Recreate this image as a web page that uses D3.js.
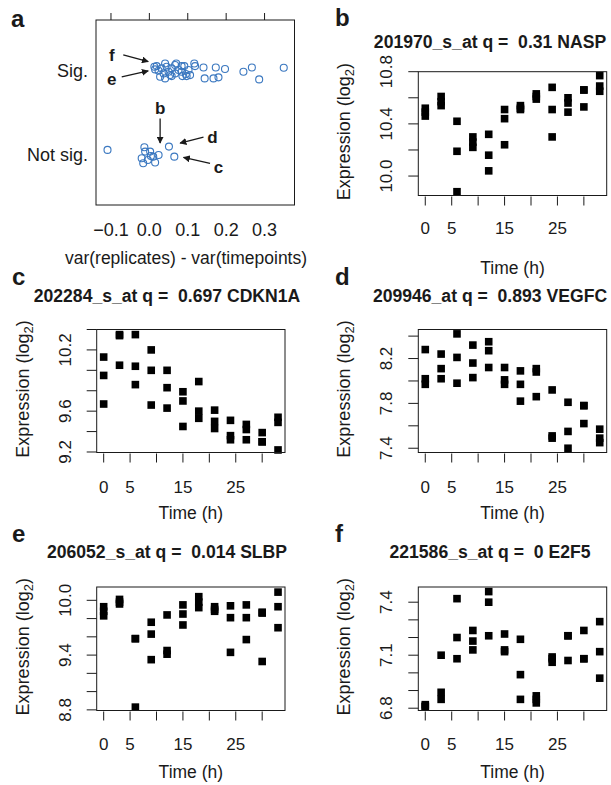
<!DOCTYPE html>
<html>
<head>
<meta charset="utf-8">
<script src="https://cdn.jsdelivr.net/npm/d3@7"></script>
<style>
  body { margin: 0; background: #fff; }
  svg { display: block; font-family: "Liberation Sans", Arial, Helvetica, sans-serif; }
  text { white-space: pre; }
</style>
</head>
<body>
<svg id="fig" width="611" height="785"></svg>
<script>
// ---- panel a: difference in variance, jittered by group ----
const groups = ['Not sig.', 'Sig.'];
const diffTicks = [-0.1, 0.0, 0.1, 0.2, 0.3];
const sigDiff = [0.015, 0.019, 0.024, 0.032, 0.041, 0.045, 0.037, 0.050, 0.058, 0.054, 0.067, 0.067,
  0.076, 0.084, 0.091, 0.086, 0.095, 0.102, 0.106, 0.117, 0.119, 0.141, 0.144, 0.167, 0.173, 0.180,
  0.197, 0.245, 0.267, 0.286, 0.350, 0.028, 0.041, 0.058, 0.084, 0.097, 0.070, 0.013];
const sigJitter = [0.008, 0.047, -0.008, 0.020, 0.078, 0.039, -0.039, -0.020, 0.020, -0.059, 0.059, -0.039,
  0.000, -0.020, 0.047, -0.071, -0.047, 0.000, -0.059, 0.078, 0.047, 0.031, -0.098, -0.098, 0.031, -0.086,
  0.012, -0.020, 0.031, -0.110, 0.027, -0.078, -0.098, -0.071, 0.047, -0.071, 0.078, 0.039];
const notSigDiff = [-0.109, -0.013, -0.011, 0.002, -0.020, -0.004, 0.010, 0.024, 0.015, -0.016, 0.051, 0.065, 0.004];
const notSigJitter = [0.059, 0.090, 0.039, 0.039, -0.039, -0.059, -0.020, 0.000, -0.090, -0.098, 0.098, -0.020, -0.012];
// arrows: tip, tail and label in data units
const notes = [
  { label: 'f', tip: [-0.003, 2.10], tail: [-0.068, 2.18], at: [-0.098, 2.18] },
  { label: 'e', tip: [-0.003, 1.99], tail: [-0.072, 1.92], at: [-0.098, 1.90] },
  { label: 'b', tip: [0.028, 1.14], tail: [0.028, 1.43], at: [0.028, 1.55] },
  { label: 'd', tip: [0.080, 1.14], tail: [0.141, 1.21], at: [0.164, 1.21] },
  { label: 'c', tip: [0.089, 0.97], tail: [0.158, 0.90], at: [0.180, 0.86] }
];

// ---- panels b-f: expression over time, three replicates per time point ----
const times = [0, 3, 6, 9, 12, 15, 18, 21, 24, 27, 30, 33];
const timeTicks = [0, 5, 10, 15, 20, 25, 30];
const timeLabels = [0, 5, 15, 25];

const naspValues = [[10.52, 10.49, 10.46], [10.61, 10.57, 10.54], [10.42, 10.19, 9.88], [10.30, 10.26, 10.22],
  [10.32, 10.16, 10.04], [10.51, 10.44, 10.24], [10.54, 10.52, 10.51], [10.63, 10.61, 10.59],
  [10.68, 10.51, 10.30], [10.60, 10.56, 10.49], [10.66, 10.66, 10.53], [10.77, 10.69, 10.65]];
const cdkn1aValues = [[10.13, 9.95, 9.67], [10.35, 10.34, 10.05], [10.35, 10.04, 9.86], [10.20, 10.00, 9.66],
  [10.00, 9.83, 9.63], [9.79, 9.70, 9.45], [9.89, 9.60, 9.53], [9.61, 9.50, 9.43],
  [9.51, 9.36, 9.32], [9.47, 9.42, 9.32], [9.39, 9.30, 9.30], [9.54, 9.49, 9.22]];
const vegfcValues = [[8.28, 8.02, 7.97], [8.24, 8.11, 8.02], [8.42, 8.21, 7.98], [8.32, 8.16, 8.03],
  [8.35, 8.27, 8.12], [8.12, 8.01, 7.97], [8.09, 7.97, 7.82], [8.11, 8.08, 7.86],
  [7.92, 7.51, 7.49], [7.81, 7.55, 7.40], [7.78, 7.78, 7.62], [7.57, 7.49, 7.45]];
const slbpValues = [[9.93, 9.88, 9.83], [10.01, 9.98, 9.96], [9.58, 9.58, 8.83], [9.76, 9.63, 9.35],
  [9.84, 9.45, 9.41], [9.95, 9.85, 9.73], [10.04, 9.98, 9.92], [9.93, 9.90, 9.88],
  [9.94, 9.81, 9.43], [9.95, 9.81, 9.57], [9.87, 9.86, 9.33], [10.09, 9.93, 9.70]];
const e2f5Values = [[6.81, 6.81, 6.82], [7.10, 6.89, 6.85], [7.42, 7.20, 7.08], [7.24, 7.18, 7.13],
  [7.46, 7.40, 7.21], [7.22, 7.13, 7.12], [7.19, 6.99, 6.85], [6.87, 6.85, 6.83],
  [7.09, 7.08, 7.06], [7.21, 7.21, 7.07], [7.24, 7.08, 7.08], [7.29, 7.12, 6.97]];

const panels = [
  { letter: 'b', title: '201970_s_at q =  0.31 NASP', values: naspValues, col: 1, row: 0,
    domain: [9.851, 10.80], ticks: [10.0, 10.2, 10.4, 10.6, 10.8], labels: [10.0, 10.4, 10.8] },
  { letter: 'c', title: '202284_s_at q =  0.697 CDKN1A', values: cdkn1aValues, col: 0, row: 1,
    domain: [9.195, 10.40], ticks: [9.2, 9.4, 9.6, 9.8, 10.0, 10.2, 10.4], labels: [9.2, 9.6, 10.2] },
  { letter: 'd', title: '209946_at q =  0.893 VEGFC', values: vegfcValues, col: 1, row: 1,
    domain: [7.362, 8.459], ticks: [7.4, 7.6, 7.8, 8.0, 8.2, 8.4], labels: [7.4, 7.8, 8.2] },
  { letter: 'e', title: '206052_s_at q =  0.014 SLBP', values: slbpValues, col: 0, row: 2,
    domain: [8.793, 10.146], ticks: [8.8, 9.0, 9.2, 9.4, 9.6, 9.8, 10.0], labels: [8.8, 9.4, 10.0] },
  { letter: 'f', title: '221586_s_at q =  0 E2F5', values: e2f5Values, col: 1, row: 2,
    domain: [6.787, 7.486], ticks: [6.8, 6.9, 7.0, 7.1, 7.2, 7.3, 7.4], labels: [6.8, 7.1, 7.4] }
];

// ---- layout ----
const colX = [[96.7, 285], [418.3, 606.7]];
const titleX = [167, 490];
const rows = [
  { top: 71.7, bottom: 195.5, tickBase: 234, labelBase: 274, title: 48, letter: 26 },
  { top: 329.5, bottom: 452.5, tickBase: 493, labelBase: 519, title: 302, letter: 285 },
  { top: 587, bottom: 710.5, tickBase: 750, labelBase: 778, title: 558, letter: 542 }
];
const ink = '#1a1a1a';
const blue = '#3b78c0';

const svg = d3.select('#fig');
svg.append('defs').append('marker')
  .attr('id', 'head').attr('viewBox', '0 0 10 10')
  .attr('refX', 9).attr('refY', 5)
  .attr('markerWidth', 7).attr('markerHeight', 7)
  .attr('markerUnits', 'userSpaceOnUse')
  .attr('orient', 'auto')
  .append('path').attr('d', 'M0,0L10,5L0,10Z').attr('fill', ink);

function letter(t, x, y) {
  svg.append('text').attr('x', x).attr('y', y)
    .attr('font-size', 24).attr('font-weight', 'bold').attr('fill', ink).text(t);
}

// ---- panel a ----
(function () {
  const x = d3.scaleLinear().domain([-0.139, 0.378]).range([96, 294.5]);
  const y = d3.scaleLinear().domain([0.41, 2.59]).range([205, 20]);
  const g = svg.append('g');

  letter('a', 11, 27);

  g.append('rect').attr('x', 96).attr('y', 20).attr('width', 198.5).attr('height', 185)
    .attr('fill', 'none').attr('stroke', ink).attr('stroke-width', 1);

  // ticks on top, labels at bottom
  g.selectAll('.tk').data(diffTicks).join('line')
    .attr('x1', d => x(d)).attr('x2', d => x(d))
    .attr('y1', 20).attr('y2', 13).attr('stroke', ink);
  g.selectAll('.tl').data(diffTicks).join('text')
    .attr('x', d => x(d)).attr('y', 236)
    .attr('text-anchor', 'middle').attr('font-size', 18).attr('fill', ink)
    .text(d => d3.format('.1f')(d));
  g.append('text').attr('x', 186).attr('y', 264)
    .attr('text-anchor', 'middle').attr('font-size', 17.5).attr('fill', ink)
    .text('var(replicates) - var(timepoints)');

  g.selectAll('.gl').data(groups).join('text')
    .attr('x', 88).attr('y', (d, i) => y(i + 1) + 6.5)
    .attr('text-anchor', 'end').attr('font-size', 18).attr('fill', ink)
    .text(d => d);

  const pts = sigDiff.map((v, i) => [v, 2 + sigJitter[i]])
    .concat(notSigDiff.map((v, i) => [v, 1 + notSigJitter[i]]));
  g.selectAll('circle').data(pts).join('circle')
    .attr('cx', d => x(d[0])).attr('cy', d => y(d[1])).attr('r', 3.5)
    .attr('fill', 'none').attr('stroke', blue).attr('stroke-width', 1.1);

  g.selectAll('.ar').data(notes).join('line')
    .attr('x1', d => x(d.tail[0])).attr('y1', d => y(d.tail[1]))
    .attr('x2', d => x(d.tip[0])).attr('y2', d => y(d.tip[1]))
    .attr('stroke', ink).attr('stroke-width', 1.3).attr('marker-end', 'url(#head)');
  g.selectAll('.nl').data(notes).join('text')
    .attr('x', d => x(d.at[0])).attr('y', d => y(d.at[1]) + 6)
    .attr('text-anchor', 'middle').attr('font-size', 17).attr('font-weight', 'bold').attr('fill', ink)
    .text(d => d.label);
})();

// ---- panels b-f ----
panels.forEach(p => {
  const [x0, x1] = colX[p.col];
  const r = rows[p.row];
  const x = d3.scaleLinear().domain([-1.32, 34.32]).range([x0, x1]);
  const y = d3.scaleLinear().domain(p.domain).range([r.bottom, r.top]);
  const g = svg.append('g');

  letter(p.letter, p.col ? 335 : 12, r.letter);
  g.append('text').attr('x', titleX[p.col]).attr('y', r.title)
    .attr('text-anchor', 'middle').attr('font-size', 17.6).attr('font-weight', 'bold').attr('fill', ink)
    .text(p.title);

  const pts = [];
  p.values.forEach((reps, i) => reps.forEach(v => pts.push([times[i], v])));
  const s = 7.6;
  g.selectAll('rect.pt').data(pts).join('rect').attr('class', 'pt')
    .attr('x', d => x(d[0]) - s / 2).attr('y', d => y(d[1]) - s / 2)
    .attr('width', s).attr('height', s).attr('fill', '#000');

  g.append('rect').attr('x', x0).attr('y', r.top).attr('width', x1 - x0).attr('height', r.bottom - r.top)
    .attr('fill', 'none').attr('stroke', ink).attr('stroke-width', 1);

  // x axis
  g.selectAll('line.xt').data(timeTicks).join('line').attr('class', 'xt')
    .attr('x1', d => x(d)).attr('x2', d => x(d))
    .attr('y1', r.bottom + 1).attr('y2', r.bottom + 10).attr('stroke', ink);
  g.selectAll('text.xl').data(timeLabels).join('text').attr('class', 'xl')
    .attr('x', d => x(d)).attr('y', r.tickBase)
    .attr('text-anchor', 'middle').attr('font-size', 17).attr('fill', ink).text(d => d);
  g.append('text').attr('x', (x0 + x1) / 2).attr('y', r.labelBase)
    .attr('text-anchor', 'middle').attr('font-size', 17.5).attr('fill', ink).text('Time (h)');

  // y axis
  g.selectAll('line.yt').data(p.ticks).join('line').attr('class', 'yt')
    .attr('x1', x0 - 10).attr('x2', x0)
    .attr('y1', d => y(d)).attr('y2', d => y(d)).attr('stroke', ink);
  g.selectAll('text.yl').data(p.labels).join('text').attr('class', 'yl')
    .attr('transform', d => `translate(${x0 - 26},${y(d)}) rotate(-90)`)
    .attr('text-anchor', 'middle').attr('font-size', 17).attr('fill', ink)
    .text(d => d3.format('.1f')(d));
  const yl = g.append('text')
    .attr('transform', `translate(${x0 - 68},${(r.top + r.bottom) / 2 - 2}) rotate(-90)`)
    .attr('text-anchor', 'middle').attr('font-size', 18).attr('fill', ink);
  yl.append('tspan').text('Expression (log');
  yl.append('tspan').attr('font-size', 13).attr('dy', 4).text('2');
  yl.append('tspan').attr('dy', -4).text(')');
});
</script>
</body>
</html>
